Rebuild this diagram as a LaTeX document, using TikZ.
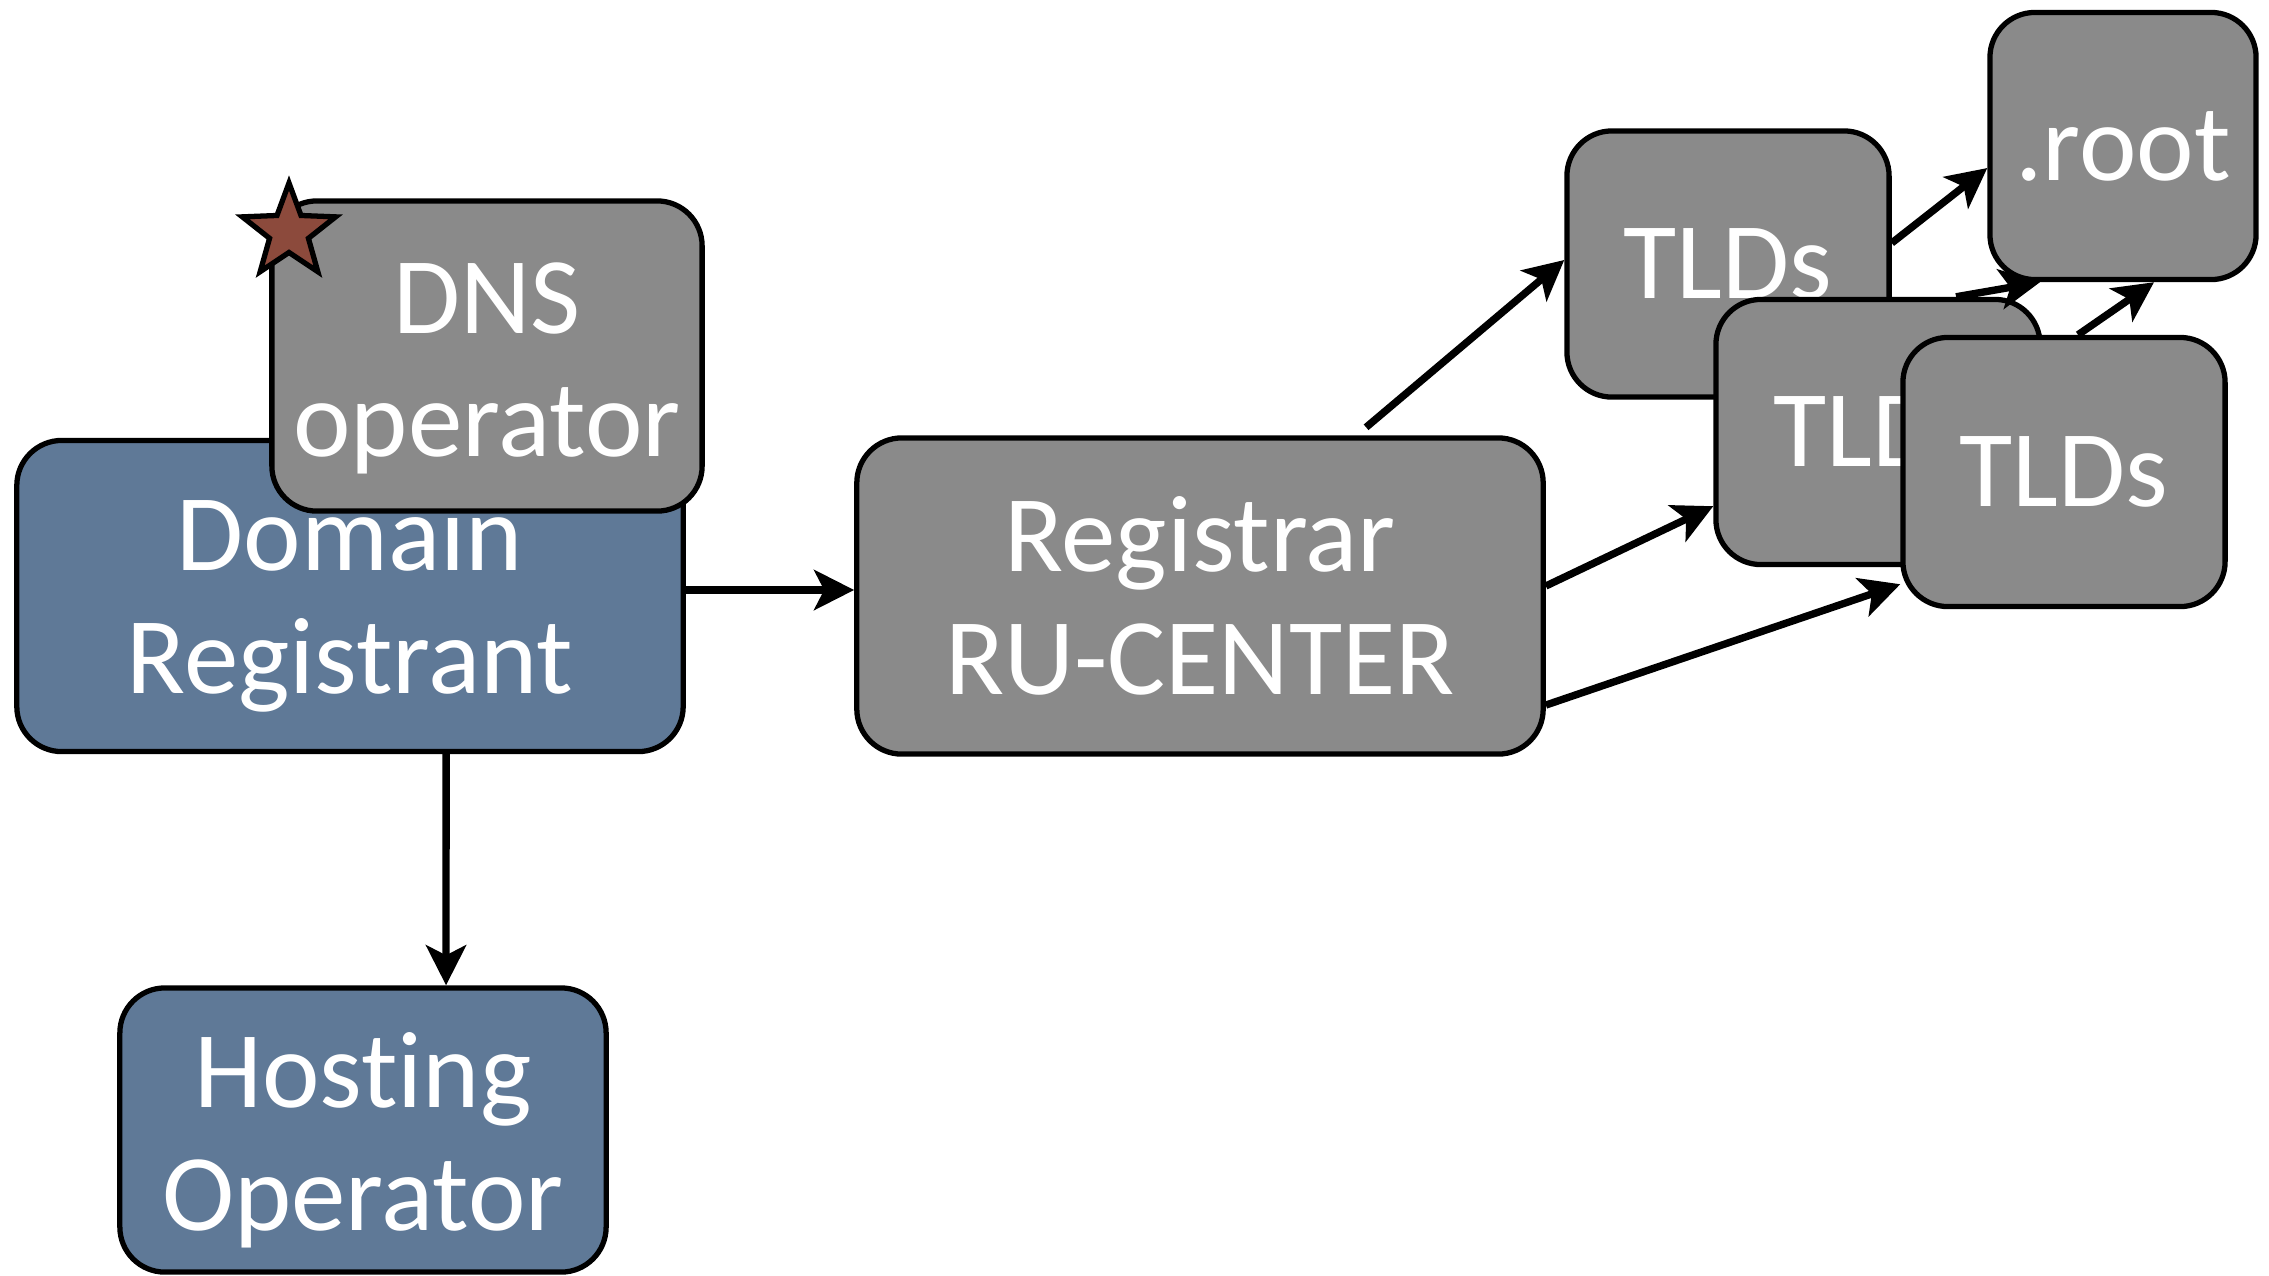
\documentclass[tikz,border=0pt]{standalone}
\usepackage{fontspec}
\setmainfont{Carlito}[Ligatures=NoCommon]
\usetikzlibrary{arrows.meta,shapes.geometric}
\definecolor{boxgray}{RGB}{138,138,138}
\definecolor{slateblue}{RGB}{95,121,151}
\definecolor{starred}{RGB}{140,74,60}
\newcommand{\lift}[1]{\rule{0pt}{#1}}

\begin{document}
\begin{tikzpicture}[x=0.01cm, y=-0.01cm,
	box/.style={draw=black, line width=1.5pt, rounded corners=0.45cm, text=white, align=center, inner sep=0pt, font=\fontsize{31}{35}\selectfont},
	graybox/.style={box, fill=boxgray},
	bluebox/.style={box, fill=slateblue},
	arr/.style={line width=2.1pt, -{Stealth[length=0.4cm, width=0.4cm, inset=0.1cm]}}]

\useasboundingbox (0,0) rectangle (2269,1275);

% Registrant side
\node[bluebox, minimum width=6.66cm, minimum height=3.11cm] (domain) at (350,596) {\lift{26pt}Domain\\Registrant};
\node[graybox, minimum width=4.3cm, minimum height=3.1cm] (dns) at (487,356) {\lift{27pt}DNS\\operator};
\node[star, star points=5, star point ratio=2.4, minimum size=0.98cm, inner sep=0pt, draw=black, line width=1.5pt, fill=starred] (dnsstar) at (289,232) {};
\node[bluebox, minimum width=4.86cm, minimum height=2.84cm] (hosting) at (363,1130) {\lift{27pt}Hosting\\Operator};

% Registrar
\node[graybox, minimum width=6.86cm, minimum height=3.16cm] (registrar) at (1200,596) {Registrar\\RU-CENTER};

% TLDs and root
\node[graybox, minimum width=3.22cm, minimum height=2.66cm] (tld1) at (1728,264) {TLDs};
\node[graybox, minimum width=3.24cm, minimum height=2.65cm] (tld2) at (1878,432) {TLDs};
\node[graybox, minimum width=3.22cm, minimum height=2.69cm] (tld3) at (2064,472) {TLDs};
\node[graybox, minimum width=2.66cm, minimum height=2.67cm] (root) at (2123,146) {.root};

% Connections
\draw[arr] ([yshift=0.06cm]domain.east) -- ([yshift=0.06cm]registrar.west);
\draw[arr] ([xshift=0.96cm]domain.south) -- ([xshift=0.83cm]hosting.north);
\draw[arr] ([xshift=1.66cm, yshift=0.08cm]registrar.north) -- ([yshift=0.04cm]tld1.west);
\draw[arr] ([yshift=0.1cm]registrar.east) -- ([yshift=0.61cm]tld2.south west);
\draw[arr] ([yshift=-1.09cm]registrar.east) -- ([yshift=0.25cm]tld3.south west);
\draw[arr] ([yshift=0.21cm]tld1.east) -- ([yshift=-0.22cm]root.west);
\draw[arr] ([xshift=0.78cm]tld2.north) -- ([xshift=-0.83cm]root.south);
\draw[arr] ([xshift=0.14cm]tld3.north) -- ([xshift=0.31cm]root.south);
\end{tikzpicture}
\end{document}
